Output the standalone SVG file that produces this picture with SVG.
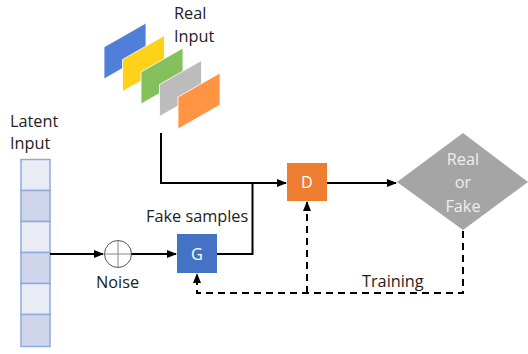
<svg xmlns="http://www.w3.org/2000/svg" width="528" height="354" viewBox="0 0 528 354">
<style>
text{font-family:"Open Sans","Noto Sans","Liberation Sans",sans-serif;font-size:16.3px;fill:#222}
.w{fill:#fff}
.dl{fill:#eeeeee}
.ln{fill:none;stroke:#000;stroke-width:2}
.ds{fill:none;stroke:#000;stroke-width:2;stroke-dasharray:7 5}
.c1{fill:#e9ebf5;stroke:#8faadc;stroke-width:1.5}
.c2{fill:#cfd5ea;stroke:#8faadc;stroke-width:1.5}
.pg{stroke:#fff;stroke-width:0.8}
</style>
<defs>
<marker id="a" viewBox="0 0 10 10" refX="9" refY="5" markerWidth="5" markerHeight="5" orient="auto-start-reverse" markerUnits="strokeWidth">
<path d="M0,1 L10,5 L0,9 z" fill="#000"/>
</marker>
</defs>
<g id="real-input">
<path class="pg" d="M104,47 L146,23 L146,55 L104,79 z" fill="#4f7fd8"/>
<path class="pg" d="M122.5,59.5 L164.5,35.5 L164.5,67.5 L122.5,91.5 z" fill="#ffd21a"/>
<path class="pg" d="M141,72 L183,48 L183,80 L141,104 z" fill="#84c15c"/>
<path class="pg" d="M159.5,84.5 L201.5,60.5 L201.5,92.5 L159.5,116.5 z" fill="#bcbcbc"/>
<path class="pg" d="M178,97 L220,73 L220,105 L178,129 z" fill="#ff9444"/>
<text x="174" y="19">Real</text>
<text x="174" y="42">Input</text>
</g>
<g id="latent-input">
<rect class="c1" x="21" y="159.5" width="29" height="31"/>
<rect class="c2" x="21" y="190.5" width="29" height="31"/>
<rect class="c1" x="21" y="221.5" width="29" height="31"/>
<rect class="c2" x="21" y="252.5" width="29" height="31"/>
<rect class="c1" x="21" y="283.5" width="29" height="31"/>
<rect class="c2" x="21" y="314.5" width="29" height="32"/>
<text x="10" y="127">Latent</text>
<text x="10" y="149">Input</text>
</g>
<g id="noise">
<circle cx="118" cy="254" r="13.5" fill="#fff" stroke="#555" stroke-width="1"/>
<path d="M104.5,254 H131.5 M118,240.5 V267.5" stroke="#888" stroke-width="1"/>
<text x="96" y="288">Noise</text>
</g>
<g id="G">
<rect x="177" y="234" width="40" height="39" fill="#4472c4"/>
<text class="w" x="197" y="259.5" text-anchor="middle">G</text>
</g>
<g id="D">
<rect x="287" y="163" width="40" height="38" fill="#ed7d31"/>
<text class="w" x="307" y="188" text-anchor="middle">D</text>
</g>
<g id="decision">
<path d="M397,182 L463,133 L528,182 L463,230 z" fill="#a5a5a5"/>
<text class="dl" x="463" y="165" text-anchor="middle">Real</text>
<text class="dl" x="463" y="188" text-anchor="middle">or</text>
<text class="dl" x="463" y="212" text-anchor="middle">Fake</text>
</g>
<g id="connectors">
<path class="ln" d="M50,254 H103" marker-end="url(#a)"/>
<path class="ln" d="M131.5,254 H176" marker-end="url(#a)"/>
<path class="ln" d="M217,254 H252.5 V183"/>
<path class="ln" d="M161,133 V183 H286" marker-end="url(#a)"/>
<path class="ln" d="M327,183 H396" marker-end="url(#a)"/>
<path class="ds" d="M463,231 V293 H197 V274" marker-end="url(#a)"/>
<path class="ds" d="M307,293 V202" marker-end="url(#a)"/>
<text x="146" y="222">Fake samples</text>
<text x="362" y="287">Training</text>
</g>
</svg>
